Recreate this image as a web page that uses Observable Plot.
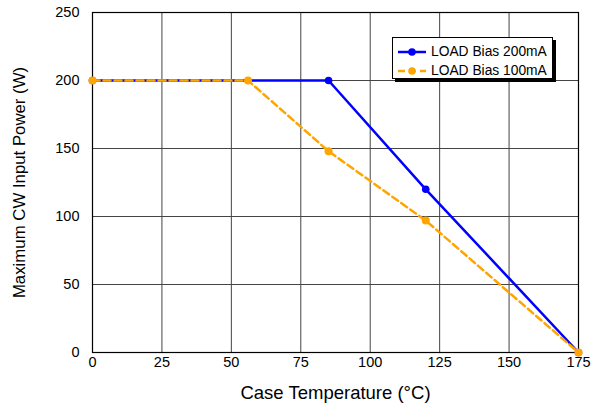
<!DOCTYPE html>
<html>
<head>
<meta charset="utf-8">
<script src="https://cdn.jsdelivr.net/npm/d3@7"></script>
<script src="https://cdn.jsdelivr.net/npm/@observablehq/plot@0.6"></script>
<style>
  html, body { margin: 0; padding: 0; background: #fff; }
  #wrap { position: relative; width: 592px; height: 406px; font-family: "Liberation Sans", Arial, sans-serif; }
  #wrap svg g[aria-label="x-axis label"] text { font-size: 18.5px; }
  #wrap svg g[aria-label="y-axis label"] text { font-size: 16.8px; }
  #legend { position: absolute; left: 392px; top: 37px; width: 161px; height: 42px; background: #fff;
    border: 1px solid #000; box-shadow: 3px 3px 0 #000; font-size: 13.8px; color: #000; box-sizing: border-box; padding: 4px 0 0 5px; }
  #legend div { display: flex; align-items: center; height: 19px; }
  #legend svg { margin-right: 5px; }
</style>
</head>
<body>
<div id="wrap"></div>
<script>
const seriesNames = ["LOAD Bias 200mA", "LOAD Bias 100mA"];
const bias200Temp = [0, 85, 120, 175];
const bias200Power = [200, 200, 120, 0];
const bias100Temp = [0, 56, 85, 120, 175];
const bias100Power = [200, 200, 148, 97, 0];
const xTicks = [0, 25, 50, 75, 100, 125, 150, 175];
const yTicks = [0, 50, 100, 150, 200, 250];
const colors = ["#0000ff", "#ffa500"];

const d200 = bias200Temp.map((t, i) => ({t, p: bias200Power[i]}));
const d100 = bias100Temp.map((t, i) => ({t, p: bias100Power[i]}));

const chart = Plot.plot({
  width: 592,
  height: 406,
  marginLeft: 92,
  marginRight: 14,
  marginTop: 12,
  marginBottom: 54,
  style: {fontFamily: "'Liberation Sans', Arial, sans-serif", fontSize: "14px", background: "#fff", color: "#000"},
  x: {domain: [0, 175], ticks: xTicks, label: null},
  y: {domain: [0, 250], ticks: yTicks, label: null},
  marks: [
    Plot.ruleX(xTicks, {stroke: "#444", strokeWidth: 1}),
    Plot.ruleY(yTicks, {stroke: "#444", strokeWidth: 1}),
    Plot.frame({stroke: "#000", strokeWidth: 1.2}),
    Plot.axisX({ticks: xTicks, tickSize: 0, tickPadding: 4, fontSize: 14.5, fill: "#000"}),
    Plot.axisY({ticks: yTicks, tickSize: 0, tickPadding: 13, fontSize: 14.5, fill: "#000"}),
    Plot.axisX({ticks: [], label: "Case Temperature (°C)", labelAnchor: "center", labelOffset: 46, labelArrow: "none"}),
    Plot.axisY({ticks: [], label: "Maximum CW Input Power (W)", labelAnchor: "center", labelOffset: 79, labelArrow: "none"}),
    Plot.line(d200, {x: "t", y: "p", stroke: colors[0], strokeWidth: 2.5}),
    Plot.dot(d200, {x: "t", y: "p", r: 3.8, fill: colors[0], stroke: null}),
    Plot.line(d100, {x: "t", y: "p", stroke: colors[1], strokeWidth: 2.5, strokeDasharray: "7,4"}),
    Plot.dot(d100, {x: "t", y: "p", r: 4, fill: colors[1], stroke: null})
  ]
});

const wrap = document.getElementById("wrap");
wrap.appendChild(chart);

const legend = document.createElement("div");
legend.id = "legend";
seriesNames.forEach((name, i) => {
  const row = document.createElement("div");
  const dash = i === 1 ? 'stroke-dasharray="7,4"' : "";
  row.innerHTML = `<svg width="28" height="10"><line x1="0" y1="5" x2="28" y2="5" stroke="${colors[i]}" stroke-width="2.5" ${dash}/><circle cx="14" cy="5" r="3.8" fill="${colors[i]}"/></svg><span>${name}</span>`;
  legend.appendChild(row);
});
wrap.appendChild(legend);
</script>
</body>
</html>
